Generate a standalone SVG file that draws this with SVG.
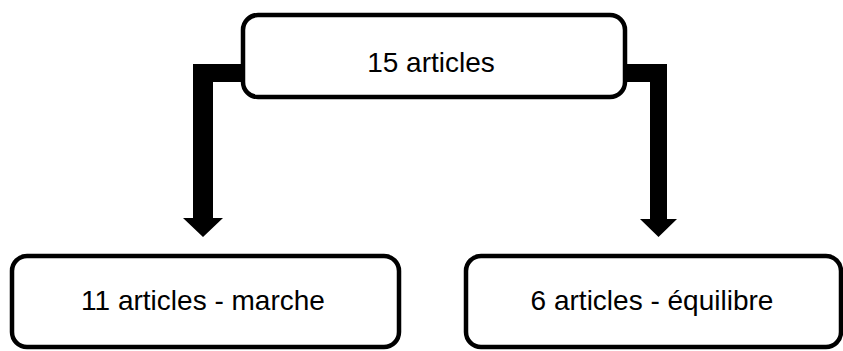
<svg xmlns="http://www.w3.org/2000/svg" width="843" height="351" viewBox="0 0 843 351">
<style>
.box{fill:#fff;stroke:#000;stroke-width:4.5}
.lbl{font-family:"Liberation Sans",Arial,sans-serif;font-size:28px;fill:#000;text-anchor:middle}
.conn{fill:#000;stroke:none}
</style>
<rect width="843" height="351" fill="#fff"/>
<g id="connectors">
<path class="conn" d="M244,64 H193 V218 H183 L203,237 L223,218 H213 V82 H244 Z"/>
<path class="conn" d="M624,64 H667 V219 H677 L658.5,237 L640,219 H650 V82 H624 Z"/>
</g>
<g id="node-top">
<rect class="box" x="243" y="15" width="382" height="82" rx="15"/>
<text class="lbl" x="431" y="72">15 articles</text>
</g>
<g id="node-left">
<rect class="box" x="12" y="256" width="387" height="91" rx="15"/>
<text class="lbl" x="203" y="310">11 articles - marche</text>
</g>
<g id="node-right">
<rect class="box" x="466" y="256" width="375" height="91" rx="15"/>
<text class="lbl" x="652" y="310">6 articles - équilibre</text>
</g>
</svg>
